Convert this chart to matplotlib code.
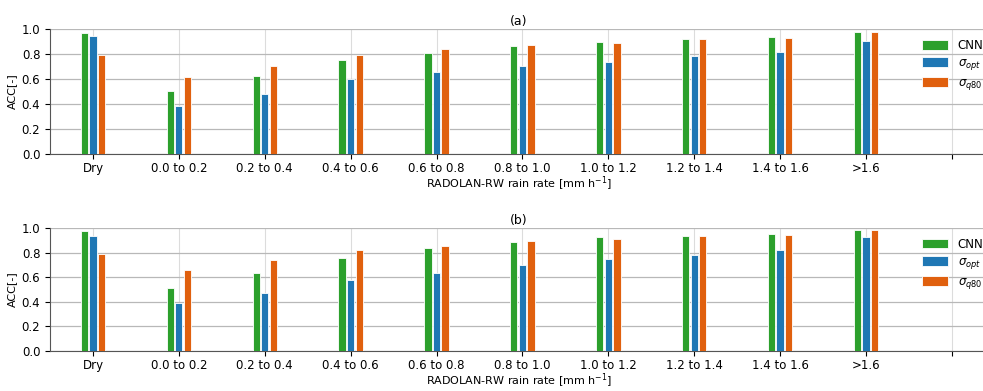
import numpy as np
import matplotlib; matplotlib.use("Agg"); import matplotlib.pyplot as plt

cats = ['Dry','0.0 to 0.2','0.2 to 0.4','0.4 to 0.6','0.6 to 0.8','0.8 to 1.0',
        '1.0 to 1.2','1.2 to 1.4','1.4 to 1.6','>1.6']
# (a)
cnn_a = [0.966,0.507,0.624,0.749,0.811,0.861,0.893,0.917,0.933,0.973]
opt_a = [0.947,0.381,0.483,0.597,0.656,0.707,0.739,0.787,0.819,0.907]
q80_a = [0.792,0.613,0.707,0.792,0.840,0.872,0.885,0.923,0.925,0.973]
# (b)
cnn_b = [0.973,0.512,0.632,0.757,0.837,0.883,0.923,0.931,0.955,0.984]
opt_b = [0.933,0.392,0.475,0.579,0.637,0.696,0.749,0.779,0.819,0.923]
q80_b = [0.787,0.656,0.739,0.819,0.856,0.893,0.912,0.931,0.944,0.984]

labels = ['CNN', r'$\sigma_{opt}$', r'$\sigma_{q80}$']
colors = ['#2ca02c', '#1f77b4', '#e0600e']

fig = plt.figure(figsize=(9.83,3.91), dpi=100)
W, H = 983, 391
x = np.arange(len(cats))
w = 0.085; offs = [-0.1, 0, 0.1]

for (top, bot), title, series in [((29,154),'(a)',(cnn_a,opt_a,q80_a)),
                                   ((228,351),'(b)',(cnn_b,opt_b,q80_b))]:
    ax = fig.add_axes([50/W, 1-bot/H, (988-50)/W, (bot-top)/H])
    for s, o, c, l in zip(series, offs, colors, labels):
        ax.bar(x+o, s, w, color=c, label=l, edgecolor='white', linewidth=0.6, zorder=3)
    ax.set_xticks(list(x)+[10]); ax.set_xticklabels(cats+[''], fontsize=8.5)
    ax.set_xlim(-0.5, 10.42); ax.set_ylim(0, 1.0)
    ax.set_yticks(np.arange(0,1.01,0.2)); ax.tick_params(axis='y', labelsize=8.5)
    ax.tick_params(axis='x', pad=2)
    ax.grid(True, axis='y', color='#b8b8b8', lw=0.9, zorder=0)
    ax.grid(True, axis='x', color='#dcdcdc', lw=0.8, zorder=0)
    for sp in ['top','right']: ax.spines[sp].set_visible(False)
    for sp in ['left','bottom']: ax.spines[sp].set_color('#555555')
    ax.set_ylabel('ACC[-]', fontsize=8, labelpad=3)
    ax.set_xlabel(r'RADOLAN-RW rain rate [mm h$^{-1}$]', fontsize=8, labelpad=0)
    ax.set_title(title, fontsize=9, pad=3)
    ax.legend(loc='upper left', bbox_to_anchor=(0.925, 0.96), frameon=False, fontsize=8.5,
              handlelength=2.2, handleheight=0.9, labelspacing=0.35, borderaxespad=0)

fig.savefig('out.png', dpi=100)
